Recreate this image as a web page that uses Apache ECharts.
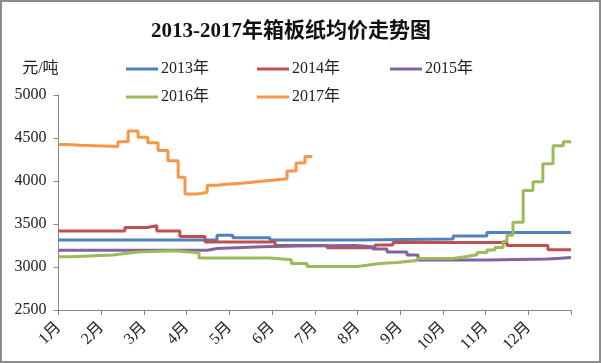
<!DOCTYPE html>
<html>
<head>
<meta charset="utf-8">
<script src="https://cdn.jsdelivr.net/npm/echarts@6/dist/echarts.min.js"></script>
<style>
html,body{margin:0;padding:0;background:#fff;}
#c{width:601px;height:363px;}
</style>
</head>
<body>
<div id="c"></div>
<script>
// Tick labels (x axis: month index 0..12)
const monthLabels = ['1月','2月','3月','4月','5月','6月','7月','8月','9月','10月','11月','12月'];
const yTicks = [2500, 3000, 3500, 4000, 4500, 5000];
const seriesNames = ['2013年','2014年','2015年','2016年','2017年'];

// Step points: month position where a price level starts, and the price (元/吨)
const m2013 = [0, 3.71, 4.08, 4.95, 7.01, 9.24, 10.03, 12];
const p2013 = [3315, 3370, 3340, 3315, 3325, 3360, 3400, 3400];

const m2014 = [0, 1.55, 2.07, 2.30, 2.84, 3.43, 5.07, 6.29, 7.41, 7.83, 10.50, 11.46, 12];
const p2014 = [3420, 3460, 3480, 3420, 3355, 3290, 3250, 3225, 3255, 3285, 3250, 3200, 3200];

const m2015 = [0, 3.48, 3.71, 4.76, 5.58, 6.94, 7.36, 7.69, 8.16, 8.42, 10.06, 11.44, 11.68, 12];
const p2015 = [3195, 3215, 3235, 3245, 3250, 3235, 3210, 3175, 3140, 3080, 3092, 3100, 3110, 3110];

const m2016 = [0, 0.31, 1.27, 1.60, 1.86, 2.68, 3.01, 3.29, 4.95, 5.45, 5.82, 6.99, 7.22, 7.53, 7.93, 8.39, 9.24, 9.56, 9.80, 10.03, 10.22, 10.41, 10.50, 10.64, 10.88, 11.11, 11.34, 11.58, 11.82, 12];
const p2016 = [3120, 3140, 3160, 3175, 3190, 3178, 3162, 3104, 3084, 3040, 3005, 3020, 3040, 3053, 3075, 3100, 3122, 3142, 3170, 3197, 3228, 3300, 3370, 3520, 3890, 3990, 4200, 4410, 4455, 4455];

const m2017 = [0, 0.2, 0.5, 1.39, 1.63, 1.86, 2.09, 2.33, 2.56, 2.80, 2.96, 3.26, 3.48, 3.70, 4.00, 4.30, 4.70, 5.00, 5.35, 5.56, 5.77, 5.94];
const p2017 = [4425, 4415, 4400, 4455, 4580, 4510, 4445, 4355, 4235, 4045, 3850, 3870, 3950, 3965, 3975, 3995, 4010, 4025, 4115, 4210, 4285, 4285];

const colors = ['#4F81BD', '#C0504D', '#8064A2', '#9BBB59', '#F79646'];
const allM = [m2013, m2014, m2015, m2016, m2017];
const allP = [p2013, p2014, p2015, p2016, p2017];

const chart = echarts.init(document.getElementById('c'), null, {renderer: 'canvas'});
const serifFont = '"Liberation Serif", "Noto Sans CJK SC", serif';

const legendPos = [[126, 61], [257, 61], [390, 61], [126, 89], [257, 89]];
const legends = seriesNames.map((n, i) => ({
  data: [n],
  left: legendPos[i][0],
  top: legendPos[i][1],
  icon: 'rect',
  itemWidth: 32,
  itemHeight: 3,
  itemGap: 0,
  padding: 0,
  selectedMode: false,
  textStyle: {fontFamily: serifFont, fontSize: 16, color: '#222', padding: [0, 0, 0, -2]}
}));

chart.setOption({
  animation: false,
  backgroundColor: '#fff',
  color: colors,
  title: {
    text: '2013-2017年箱板纸均价走势图',
    left: 151,
    top: 21,
    padding: 0,
    textStyle: {fontFamily: serifFont, fontSize: 21, fontWeight: 'bold', color: '#111'}
  },
  legend: legends,
  grid: {left: 58.6, right: 30, top: 95, bottom: 53, containLabel: false, outerBoundsMode: 'none'},
  xAxis: {
    type: 'value',
    min: 0,
    max: 12,
    interval: 1,
    splitLine: {show: false},
    axisLine: {show: true, lineStyle: {color: '#868686', width: 1}},
    axisTick: {show: true, length: 5, lineStyle: {color: '#868686'}},
    axisLabel: {
      rotate: 45,
      margin: 15,
      fontFamily: serifFont,
      fontSize: 16,
      color: '#222',
      formatter: v => (v < 12 ? monthLabels[v] : '')
    }
  },
  yAxis: {
    type: 'value',
    min: yTicks[0],
    max: yTicks[yTicks.length - 1],
    interval: 500,
    name: '元/吨',
    nameLocation: 'end',
    nameGap: 18,
    nameTextStyle: {fontFamily: serifFont, fontSize: 16, color: '#222', align: 'right', padding: [0, 0, 0, 0]},
    splitLine: {show: false},
    axisLine: {show: true, lineStyle: {color: '#868686', width: 1}},
    axisTick: {show: true, length: 5, lineStyle: {color: '#868686'}},
    axisLabel: {margin: 12, fontFamily: serifFont, fontSize: 16, color: '#222', formatter: v => String(v)}
  },
  series: seriesNames.map((n, i) => ({
    name: n,
    type: 'line',
    step: 'end',
    showSymbol: false,
    symbol: 'none',
    lineStyle: {width: 3, color: colors[i]},
    itemStyle: {color: colors[i]},
    data: allM[i].map((m, j) => [m, allP[i][j]])
  })),
  graphic: [{
    type: 'rect',
    shape: {x: 1, y: 1, width: 599, height: 361},
    style: {fill: 'none', stroke: '#8c8c8c', lineWidth: 2},
    silent: true
  }]
});
</script>
</body>
</html>
